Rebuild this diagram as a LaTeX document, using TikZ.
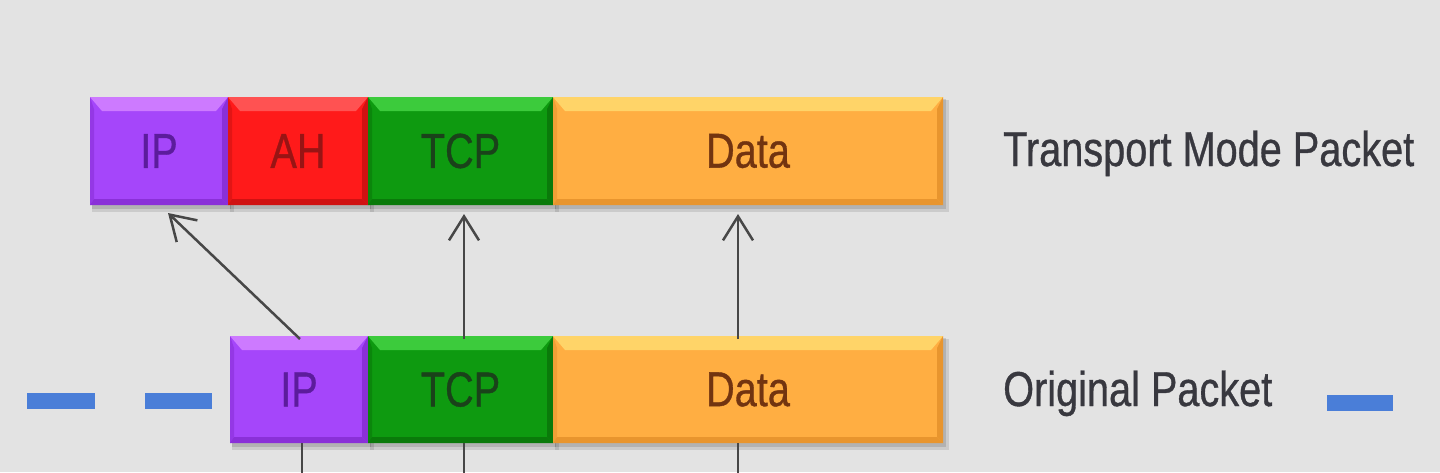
\documentclass[tikz,border=0pt]{standalone}
\usepackage{fontspec}
\setmainfont{Liberation Sans}
\newfontfamily\heavyfont[FakeBold=0.8]{Liberation Sans}
\usepackage{graphicx}
\usetikzlibrary{arrows.meta,fit,calc}
\definecolor{bgc}{HTML}{E3E3E3}
\definecolor{ipBase}{HTML}{A546FA}
\definecolor{ipLight}{HTML}{CD7AFF}
\definecolor{ipDark}{HTML}{8A30D8}
\definecolor{ipText}{HTML}{5C1C9C}
\definecolor{ahBase}{HTML}{FF1A1A}
\definecolor{ahLight}{HTML}{FF5252}
\definecolor{ahDark}{HTML}{D01212}
\definecolor{ahText}{HTML}{981414}
\definecolor{tcpBase}{HTML}{0E9A10}
\definecolor{tcpLight}{HTML}{3CCB3C}
\definecolor{tcpDark}{HTML}{0A7A0A}
\definecolor{tcpText}{HTML}{1A421A}
\definecolor{dataBase}{HTML}{FFAE42}
\definecolor{dataLight}{HTML}{FFD468}
\definecolor{dataDark}{HTML}{E8952E}
\definecolor{dataText}{HTML}{723410}
\definecolor{lblc}{HTML}{38383F}
\definecolor{dashc}{HTML}{4A7ED8}
\definecolor{connc}{HTML}{474747}
\tikzset{
  pkt/.style={inner sep=0pt, outer sep=0pt},
  boxtext/.style={inner sep=0pt, font=\heavyfont\fontsize{49}{58}\selectfont},
  lbl/.style={inner sep=0pt, text=lblc, font=\heavyfont\fontsize{49}{58}\selectfont},
  conn/.style={draw=connc, line width=2.5pt},
  arr/.style={conn, -{Straight Barb[length=24pt,width=30pt]}},
  dashbar/.style={fill=dashc}
}
\newcommand\pktbox[7]{%
  \fill[black, opacity=0.10] (#2+2,#3+3) rectangle (#4+6,#5+7);
  \fill[black, opacity=0.12] (#2+2,#3+2) rectangle (#4+3,#5+4);
  \coordinate (#1-a) at (#2,#3);
  \coordinate (#1-b) at (#4,#5);
  \node[pkt, fit=(#1-a)(#1-b), fill=#6Base] (#1) {};
  \fill[#6Light] (#1.north west) -- (#1.north east)
     -- ([xshift=-12pt,yshift=-14pt]#1.north east)
     -- ([xshift=12pt,yshift=-14pt]#1.north west) -- cycle;
  \fill[#6Dark] (#1.north east) -- (#1.south east)
     -- ([xshift=-6pt,yshift=6pt]#1.south east)
     -- ([xshift=-6pt,yshift=-12pt]#1.north east) -- cycle;
  \fill[#6Dark] (#1.south west) -- (#1.south east)
     -- ([xshift=-6pt,yshift=6pt]#1.south east)
     -- ([xshift=4pt,yshift=6pt]#1.south west) -- cycle;
  \fill[#6Dark, opacity=0.6] (#1.north west) -- (#1.south west)
     -- ([xshift=4pt,yshift=6pt]#1.south west)
     -- ([xshift=4pt,yshift=-12pt]#1.north west) -- cycle;
  \node[boxtext, text=#6Text] (#1-t) at (#1.center) {\scalebox{0.81}[1]{#7}};
}
\begin{document}
\begin{tikzpicture}[x=1pt,y=-1pt]
\useasboundingbox (0,0) rectangle (1440,472);
\fill[bgc] (0,0) rectangle (1440,472);

% top row: transport mode packet
\pktbox{tip}{90}{97}{228}{205}{ip}{IP}
\pktbox{tah}{228}{97}{368}{205}{ah}{AH}
\pktbox{ttcp}{368}{97}{553}{205}{tcp}{TCP}
\pktbox{tdata}{553}{97}{943}{205}{data}{Data}

% bottom row: original packet
\pktbox{bip}{230}{336}{368}{443}{ip}{IP}
\pktbox{btcp}{368}{336}{553}{443}{tcp}{TCP}
\pktbox{bdata}{553}{336}{943}{443}{data}{Data}

% labels
\node[lbl, anchor=base west] (tlabel) at (1003,166) {\scalebox{0.81}[1]{Transport Mode Packet}};
\node[lbl, anchor=base west] (blabel) at (1003,406) {\scalebox{0.81}[1]{Original Packet}};

% blue dashes
\fill[dashbar] (27,393) rectangle (95,409);
\fill[dashbar] (145,393) rectangle (212,409);
\fill[dashbar] (1327,395) rectangle (1393,411);

% arrows
\draw[arr] ([xshift=1pt,yshift=-3pt]bip.north) -- ([xshift=9pt,yshift=-8pt]tip.south);
\draw[arr] ([xshift=3.5pt,yshift=-3pt]btcp.north) -- ([xshift=3.5pt,yshift=-9pt]ttcp.south);
\draw[arr] ([xshift=-10pt,yshift=-3pt]bdata.north) -- ([xshift=-10pt,yshift=-9pt]tdata.south);

% lines leaving the bottom
\coordinate (e1) at (302,480);
\coordinate (e2) at (464,480);
\coordinate (e3) at (738,480);
\draw[conn] (bip.south -| e1) -- (e1);
\draw[conn] (btcp.south -| e2) -- (e2);
\draw[conn] (bdata.south -| e3) -- (e3);
\end{tikzpicture}
\end{document}
